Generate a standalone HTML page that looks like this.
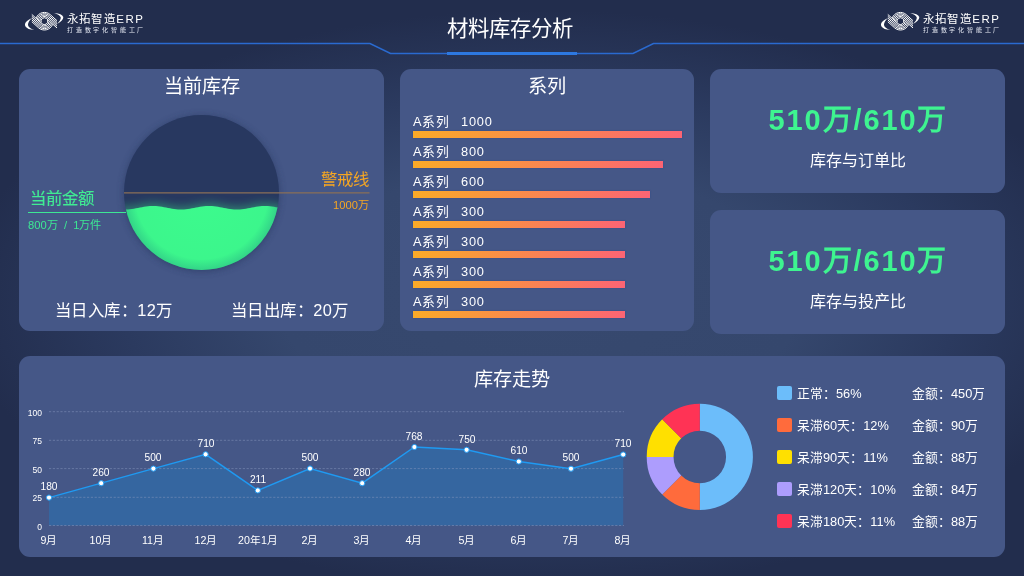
<!DOCTYPE html>
<html lang="zh-CN"><head><meta charset="utf-8">
<style>
*{margin:0;padding:0;box-sizing:border-box}
html,body{width:1024px;height:576px;overflow:hidden}
body{position:relative;font-family:"Liberation Sans",sans-serif;color:#fff;background:#222d4d}
.bg{position:absolute;left:0;top:0;width:1024px;height:576px;
background:radial-gradient(ellipse 580px 290px at 540px 300px,#37496f 0%,#35476d 45%,#2b3a5f 72%,#222d4d 100%)}
.abs{position:absolute;white-space:nowrap;will-change:transform}
.panel{position:absolute;background:#455787;border-radius:11px}
.logo{position:absolute;width:120px;height:26px;will-change:transform}
.logo .t1{position:absolute;left:41.5px;top:1.5px;font-size:11.5px;line-height:13px;letter-spacing:1.45px;color:#fff;white-space:nowrap}
.logo .t2{position:absolute;left:42px;top:14.5px;font-size:6px;line-height:8px;letter-spacing:2.8px;color:#e8ecf5;white-space:nowrap}
.bar{height:6.5px;background:linear-gradient(90deg,#fbaa28,#f99a3a 25%,#fb6474);box-shadow:0 0 1.5px #2c4a8c}
.bl{font-size:12.8px;line-height:15px;letter-spacing:0.8px;color:#fff}
.dl{width:60px;text-align:center;font-size:10.2px;line-height:12px;color:#fff}
.xl{width:60px;text-align:center;font-size:10.67px;line-height:14px;color:#fff}
.yl{width:41px;text-align:right;font-size:8.53px;line-height:12px;color:#fff}
.lt{font-size:12.8px;line-height:18px;color:#fff}
</style></head>
<body>
<div class="bg"></div>
<svg class="abs" style="left:0;top:0" width="1024" height="60">
<polyline points="0,43.5 370,43.5 390.5,53.5 633,53.5 653.5,43.5 1024,43.5" fill="none" stroke="#2a6ad0" stroke-width="1.5"/>
<rect x="447" y="52" width="130" height="3" fill="#2d78e0"/>
</svg>
<div class="abs" style="left:446.5px;top:14.5px;font-size:21.4px;line-height:28px">材料库存分析</div>
<div class="logo" style="left:25px;top:11px"><svg class="abs" style="left:0;top:0" width="40" height="22" viewBox="25 11 40 22">
<path d="M32,18 Q23,22 25.5,26.5 Q27.5,29.5 34.2,30 Q28.5,28 28,25 Q27.8,22 32,18 Z" fill="#fff"/>
<path d="M54.1,12.9 Q62,13.5 63.3,17 Q63.5,20.5 57,24 Q61,20 60.8,17.5 Q60,14.5 54.1,12.9 Z" fill="#fff"/>
<path d="M41.20,22.36 A3.40,3.40 0 0 1 46.68,18.67 L57.00,27.97 M39.66,20.97 A4.75,4.75 0 0 1 47.58,17.67 L57.00,26.15 M38.45,19.88 A6.10,6.10 0 0 1 48.48,16.67 L57.00,24.34 M37.32,18.87 A7.45,7.45 0 0 1 49.39,15.66 L57.00,22.52 M36.24,17.89 A8.80,8.80 0 0 1 50.29,14.66 L57.00,20.70 M47.60,20.04 A3.40,3.40 0 0 1 42.12,23.73 L31.80,14.43 M49.14,21.43 A4.75,4.75 0 0 1 41.22,24.73 L31.80,16.25 M50.35,22.52 A6.10,6.10 0 0 1 40.32,25.73 L31.80,18.06 M51.48,23.53 A7.45,7.45 0 0 1 39.41,26.74 L31.80,19.88 M52.56,24.51 A8.80,8.80 0 0 1 38.51,27.74 L31.80,21.70" fill="none" stroke="#fff" stroke-width="1"/>
</svg><div class="t1">永拓智造ERP</div><div class="t2">打造数字化智能工厂</div></div>
<div class="logo" style="left:880.5px;top:11px"><svg class="abs" style="left:0;top:0" width="40" height="22" viewBox="25 11 40 22">
<path d="M32,18 Q23,22 25.5,26.5 Q27.5,29.5 34.2,30 Q28.5,28 28,25 Q27.8,22 32,18 Z" fill="#fff"/>
<path d="M54.1,12.9 Q62,13.5 63.3,17 Q63.5,20.5 57,24 Q61,20 60.8,17.5 Q60,14.5 54.1,12.9 Z" fill="#fff"/>
<path d="M41.20,22.36 A3.40,3.40 0 0 1 46.68,18.67 L57.00,27.97 M39.66,20.97 A4.75,4.75 0 0 1 47.58,17.67 L57.00,26.15 M38.45,19.88 A6.10,6.10 0 0 1 48.48,16.67 L57.00,24.34 M37.32,18.87 A7.45,7.45 0 0 1 49.39,15.66 L57.00,22.52 M36.24,17.89 A8.80,8.80 0 0 1 50.29,14.66 L57.00,20.70 M47.60,20.04 A3.40,3.40 0 0 1 42.12,23.73 L31.80,14.43 M49.14,21.43 A4.75,4.75 0 0 1 41.22,24.73 L31.80,16.25 M50.35,22.52 A6.10,6.10 0 0 1 40.32,25.73 L31.80,18.06 M51.48,23.53 A7.45,7.45 0 0 1 39.41,26.74 L31.80,19.88 M52.56,24.51 A8.80,8.80 0 0 1 38.51,27.74 L31.80,21.70" fill="none" stroke="#fff" stroke-width="1"/>
</svg><div class="t1">永拓智造ERP</div><div class="t2">打造数字化智能工厂</div></div>

<div class="panel" style="left:19px;top:69px;width:365px;height:262px"></div>
<div class="panel" style="left:400px;top:69px;width:294px;height:262px"></div>
<div class="panel" style="left:710px;top:69px;width:295px;height:124px"></div>
<div class="panel" style="left:710px;top:210px;width:295px;height:124px"></div>
<div class="panel" style="left:19px;top:356px;width:986px;height:201px"></div>

<!-- panel 1 -->
<div class="abs" style="left:19px;width:365px;top:74.5px;text-align:center;font-size:19.2px;line-height:24px">当前库存</div>
<svg class="abs" style="left:0;top:0" width="400" height="340">
<defs>
<clipPath id="cc"><circle cx="201.5" cy="192.5" r="77.5"/></clipPath>
<radialGradient id="gg" cx="201.5" cy="192.5" r="77.5" gradientUnits="userSpaceOnUse">
<stop offset="0" stop-color="#3cfb8d"/><stop offset="0.86" stop-color="#3cf68c"/><stop offset="1" stop-color="#33d488"/></radialGradient>
<filter id="bl4" x="-20%" y="-50%" width="140%" height="200%"><feGaussianBlur stdDeviation="4"/></filter>
<filter id="sh" x="-20%" y="-20%" width="140%" height="140%"><feGaussianBlur stdDeviation="3"/></filter>
</defs>
<circle cx="201.5" cy="193.5" r="78.5" fill="#2a3a63" opacity="0.6" filter="url(#sh)"/>
<circle cx="201.5" cy="192.5" r="77.5" fill="#283860"/>
<g clip-path="url(#cc)">
<path d="M118,205.71 L120,205.96 L122,206.14 L124,206.23 L126,206.24 L128,206.16 L130,206.00 L132,205.76 L134,205.46 L136,205.11 L138,204.73 L140,204.34 L142,203.96 L144,203.60 L146,203.29 L148,203.04 L150,202.86 L152,202.77 L154,202.76 L156,202.84 L158,203.00 L160,203.24 L162,203.54 L164,203.89 L166,204.27 L168,204.66 L170,205.04 L172,205.40 L174,205.71 L176,205.96 L178,206.14 L180,206.23 L182,206.24 L184,206.16 L186,206.00 L188,205.76 L190,205.46 L192,205.11 L194,204.73 L196,204.34 L198,203.96 L200,203.60 L202,203.29 L204,203.04 L206,202.86 L208,202.77 L210,202.76 L212,202.84 L214,203.00 L216,203.24 L218,203.54 L220,203.89 L222,204.27 L224,204.66 L226,205.04 L228,205.40 L230,205.71 L232,205.96 L234,206.14 L236,206.23 L238,206.24 L240,206.16 L242,206.00 L244,205.76 L246,205.46 L248,205.11 L250,204.73 L252,204.34 L254,203.96 L256,203.60 L258,203.29 L260,203.04 L262,202.86 L264,202.77 L266,202.76 L268,202.84 L270,203.00 L272,203.24 L274,203.54 L276,203.89 L278,204.27 L280,204.66 L282,205.04 L284,205.40 L286,205.71 L287,275 L118,275 Z" fill="#3df58e" opacity="0.35" filter="url(#bl4)"/>
<path d="M118,208.96 L120,209.21 L122,209.39 L124,209.48 L126,209.49 L128,209.41 L130,209.25 L132,209.01 L134,208.71 L136,208.36 L138,207.98 L140,207.59 L142,207.21 L144,206.85 L146,206.54 L148,206.29 L150,206.11 L152,206.02 L154,206.01 L156,206.09 L158,206.25 L160,206.49 L162,206.79 L164,207.14 L166,207.52 L168,207.91 L170,208.29 L172,208.65 L174,208.96 L176,209.21 L178,209.39 L180,209.48 L182,209.49 L184,209.41 L186,209.25 L188,209.01 L190,208.71 L192,208.36 L194,207.98 L196,207.59 L198,207.21 L200,206.85 L202,206.54 L204,206.29 L206,206.11 L208,206.02 L210,206.01 L212,206.09 L214,206.25 L216,206.49 L218,206.79 L220,207.14 L222,207.52 L224,207.91 L226,208.29 L228,208.65 L230,208.96 L232,209.21 L234,209.39 L236,209.48 L238,209.49 L240,209.41 L242,209.25 L244,209.01 L246,208.71 L248,208.36 L250,207.98 L252,207.59 L254,207.21 L256,206.85 L258,206.54 L260,206.29 L262,206.11 L264,206.02 L266,206.01 L268,206.09 L270,206.25 L272,206.49 L274,206.79 L276,207.14 L278,207.52 L280,207.91 L282,208.29 L284,208.65 L286,208.96 L287,275 L118,275 Z" fill="url(#gg)"/>
</g>
<line x1="124" y1="192.8" x2="369.5" y2="192.8" stroke="#8a6f57" stroke-width="1.3"/>
<line x1="28" y1="212.5" x2="126" y2="212.5" stroke="#3de894" stroke-width="1"/>
</svg>
<div class="abs" style="left:29.5px;top:187px;font-size:16.4px;line-height:22px;color:#40ec93;-webkit-text-stroke:0.15px #40ec93">当前金额</div>
<div class="abs" style="left:28px;top:217px;font-size:11.2px;line-height:16px;color:#3de894">800万&nbsp; /&nbsp; 1万件</div>
<div class="abs" style="right:655px;top:167.5px;font-size:16.4px;line-height:22px;color:#f5a623">警戒线</div>
<div class="abs" style="right:655px;top:197px;font-size:11.2px;line-height:16px;color:#f5a623">1000万</div>
<div class="abs" style="left:54.5px;top:299.5px;font-size:16.4px;letter-spacing:0.45px;line-height:20px">当日入库：12万</div>
<div class="abs" style="left:231px;top:299.5px;font-size:16.4px;letter-spacing:0.45px;line-height:20px">当日出库：20万</div>

<!-- panel 2 -->
<div class="abs" style="left:400px;width:294px;top:74.5px;text-align:center;font-size:19.2px;line-height:24px">系列</div>
<div class="abs bar" style="left:413px;top:131.2px;width:268.7px"></div>
<div class="abs bl" style="left:412.8px;top:114.2px">A系列</div>
<div class="abs bl" style="left:461px;top:114.2px">1000</div>
<div class="abs bar" style="left:413px;top:161.2px;width:250.0px"></div>
<div class="abs bl" style="left:412.8px;top:144.2px">A系列</div>
<div class="abs bl" style="left:461px;top:144.2px">800</div>
<div class="abs bar" style="left:413px;top:191.2px;width:237.0px"></div>
<div class="abs bl" style="left:412.8px;top:174.2px">A系列</div>
<div class="abs bl" style="left:461px;top:174.2px">600</div>
<div class="abs bar" style="left:413px;top:221.2px;width:211.7px"></div>
<div class="abs bl" style="left:412.8px;top:204.2px">A系列</div>
<div class="abs bl" style="left:461px;top:204.2px">300</div>
<div class="abs bar" style="left:413px;top:251.2px;width:211.7px"></div>
<div class="abs bl" style="left:412.8px;top:234.2px">A系列</div>
<div class="abs bl" style="left:461px;top:234.2px">300</div>
<div class="abs bar" style="left:413px;top:281.2px;width:211.7px"></div>
<div class="abs bl" style="left:412.8px;top:264.2px">A系列</div>
<div class="abs bl" style="left:461px;top:264.2px">300</div>
<div class="abs bar" style="left:413px;top:311.2px;width:211.7px"></div>
<div class="abs bl" style="left:412.8px;top:294.2px">A系列</div>
<div class="abs bl" style="left:461px;top:294.2px">300</div>

<!-- panel 3/4 -->
<div class="abs" style="left:710px;width:295px;top:101px;text-align:center;font-size:29px;line-height:38px;letter-spacing:1.9px;text-indent:1.9px;font-weight:bold;color:#3ef490">510万/610万</div>
<div class="abs" style="left:710px;width:295px;top:150.5px;text-align:center;font-size:16px;line-height:20px">库存与订单比</div>
<div class="abs" style="left:710px;width:295px;top:242px;text-align:center;font-size:29px;line-height:38px;letter-spacing:1.9px;text-indent:1.9px;font-weight:bold;color:#3ef490">510万/610万</div>
<div class="abs" style="left:710px;width:295px;top:291.5px;text-align:center;font-size:16px;line-height:20px">库存与投产比</div>

<!-- panel 5 -->
<div class="abs" style="left:19px;width:986px;top:367.6px;text-align:center;font-size:19.2px;line-height:24px">库存走势</div>
<svg class="abs" style="left:0;top:0" width="1024" height="576">
<path d="M49.0,525.5 L49.0,497.6 L101.2,483.2 L153.4,468.6 L205.6,454.3 L257.8,490.4 L310.0,468.5 L362.2,483.2 L414.4,447.0 L466.6,449.8 L518.8,461.5 L571.0,468.7 L623.2,454.5 L623.2,525.5 Z" fill="#3566a0"/>
<line x1="49" y1="411.7" x2="624" y2="411.7" stroke="#8a9ac0" stroke-opacity="0.5" stroke-width="1" stroke-dasharray="2.2,1.6"/>
<line x1="49" y1="440.3" x2="624" y2="440.3" stroke="#8a9ac0" stroke-opacity="0.5" stroke-width="1" stroke-dasharray="2.2,1.6"/>
<line x1="49" y1="468.6" x2="624" y2="468.6" stroke="#8a9ac0" stroke-opacity="0.5" stroke-width="1" stroke-dasharray="2.2,1.6"/>
<line x1="49" y1="497.3" x2="624" y2="497.3" stroke="#8a9ac0" stroke-opacity="0.5" stroke-width="1" stroke-dasharray="2.2,1.6"/>
<line x1="49" y1="525.5" x2="624" y2="525.5" stroke="#8a9ac0" stroke-opacity="0.5" stroke-width="1" stroke-dasharray="2.2,1.6"/>
<polyline points="49.0,497.6 101.2,483.2 153.4,468.6 205.6,454.3 257.8,490.4 310.0,468.5 362.2,483.2 414.4,447.0 466.6,449.8 518.8,461.5 571.0,468.7 623.2,454.5" fill="none" stroke="#1f9af2" stroke-width="1.4"/>
<circle cx="49.0" cy="497.6" r="2.6" fill="#fff" stroke="#1f9af2" stroke-width="1"/>
<circle cx="101.2" cy="483.2" r="2.6" fill="#fff" stroke="#1f9af2" stroke-width="1"/>
<circle cx="153.4" cy="468.6" r="2.6" fill="#fff" stroke="#1f9af2" stroke-width="1"/>
<circle cx="205.6" cy="454.3" r="2.6" fill="#fff" stroke="#1f9af2" stroke-width="1"/>
<circle cx="257.8" cy="490.4" r="2.6" fill="#fff" stroke="#1f9af2" stroke-width="1"/>
<circle cx="310.0" cy="468.5" r="2.6" fill="#fff" stroke="#1f9af2" stroke-width="1"/>
<circle cx="362.2" cy="483.2" r="2.6" fill="#fff" stroke="#1f9af2" stroke-width="1"/>
<circle cx="414.4" cy="447.0" r="2.6" fill="#fff" stroke="#1f9af2" stroke-width="1"/>
<circle cx="466.6" cy="449.8" r="2.6" fill="#fff" stroke="#1f9af2" stroke-width="1"/>
<circle cx="518.8" cy="461.5" r="2.6" fill="#fff" stroke="#1f9af2" stroke-width="1"/>
<circle cx="571.0" cy="468.7" r="2.6" fill="#fff" stroke="#1f9af2" stroke-width="1"/>
<circle cx="623.2" cy="454.5" r="2.6" fill="#fff" stroke="#1f9af2" stroke-width="1"/>
<path d="M699.80,403.80 A53.1,53.1 0 0 1 699.80,510.00 L699.80,483.15 A26.25,26.25 0 0 0 699.80,430.65 Z" fill="#6cbdfa"/>
<path d="M699.80,510.00 A53.1,53.1 0 0 1 662.25,494.45 L681.24,475.46 A26.25,26.25 0 0 0 699.80,483.15 Z" fill="#ff6b3c"/>
<path d="M662.25,494.45 A53.1,53.1 0 0 1 646.70,456.90 L673.55,456.90 A26.25,26.25 0 0 0 681.24,475.46 Z" fill="#ad9dfd"/>
<path d="M646.70,456.90 A53.1,53.1 0 0 1 662.25,419.35 L681.24,438.34 A26.25,26.25 0 0 0 673.55,456.90 Z" fill="#ffe000"/>
<path d="M662.25,419.35 A53.1,53.1 0 0 1 699.80,403.80 L699.80,430.65 A26.25,26.25 0 0 0 681.24,438.34 Z" fill="#ff3355"/>
</svg>
<div class="abs dl" style="left:19.0px;top:481.3px">180</div>
<div class="abs dl" style="left:71.2px;top:466.9px">260</div>
<div class="abs dl" style="left:123.4px;top:452.3px">500</div>
<div class="abs dl" style="left:175.6px;top:438.0px">710</div>
<div class="abs dl" style="left:227.8px;top:474.1px">211</div>
<div class="abs dl" style="left:280.0px;top:452.2px">500</div>
<div class="abs dl" style="left:332.2px;top:466.9px">280</div>
<div class="abs dl" style="left:384.4px;top:430.7px">768</div>
<div class="abs dl" style="left:436.6px;top:433.5px">750</div>
<div class="abs dl" style="left:488.8px;top:445.2px">610</div>
<div class="abs dl" style="left:541.0px;top:452.4px">500</div>
<div class="abs dl" style="left:593.2px;top:438.2px">710</div>
<div class="abs xl" style="left:19.0px;top:532.5px">9月</div>
<div class="abs xl" style="left:71.2px;top:532.5px">10月</div>
<div class="abs xl" style="left:123.4px;top:532.5px">11月</div>
<div class="abs xl" style="left:175.6px;top:532.5px">12月</div>
<div class="abs xl" style="left:227.8px;top:532.5px">20年1月</div>
<div class="abs xl" style="left:280.0px;top:532.5px">2月</div>
<div class="abs xl" style="left:332.2px;top:532.5px">3月</div>
<div class="abs xl" style="left:384.4px;top:532.5px">4月</div>
<div class="abs xl" style="left:436.6px;top:532.5px">5月</div>
<div class="abs xl" style="left:488.8px;top:532.5px">6月</div>
<div class="abs xl" style="left:541.0px;top:532.5px">7月</div>
<div class="abs xl" style="left:593.2px;top:532.5px">8月</div>
<div class="abs yl" style="left:0.7px;top:406.8px">100</div>
<div class="abs yl" style="left:0.7px;top:435.4px">75</div>
<div class="abs yl" style="left:0.7px;top:463.7px">50</div>
<div class="abs yl" style="left:0.7px;top:492.4px">25</div>
<div class="abs yl" style="left:0.7px;top:520.6px">0</div>
<div class="abs" style="left:776.7px;top:386.3px;width:14.6px;height:14px;border-radius:2px;background:#6cbdfa"></div>
<div class="abs lt" style="left:797px;top:384.8px">正常：56%</div>
<div class="abs lt" style="left:912px;top:384.8px">金额：450万</div>
<div class="abs" style="left:776.7px;top:418.3px;width:14.6px;height:14px;border-radius:2px;background:#ff6b3c"></div>
<div class="abs lt" style="left:797px;top:416.8px">呆滞60天：12%</div>
<div class="abs lt" style="left:912px;top:416.8px">金额：90万</div>
<div class="abs" style="left:776.7px;top:450.3px;width:14.6px;height:14px;border-radius:2px;background:#ffe000"></div>
<div class="abs lt" style="left:797px;top:448.8px">呆滞90天：11%</div>
<div class="abs lt" style="left:912px;top:448.8px">金额：88万</div>
<div class="abs" style="left:776.7px;top:482.3px;width:14.6px;height:14px;border-radius:2px;background:#ad9dfd"></div>
<div class="abs lt" style="left:797px;top:480.8px">呆滞120天：10%</div>
<div class="abs lt" style="left:912px;top:480.8px">金额：84万</div>
<div class="abs" style="left:776.7px;top:514.3px;width:14.6px;height:14px;border-radius:2px;background:#ff3355"></div>
<div class="abs lt" style="left:797px;top:512.8px">呆滞180天：11%</div>
<div class="abs lt" style="left:912px;top:512.8px">金额：88万</div>
</body></html>
